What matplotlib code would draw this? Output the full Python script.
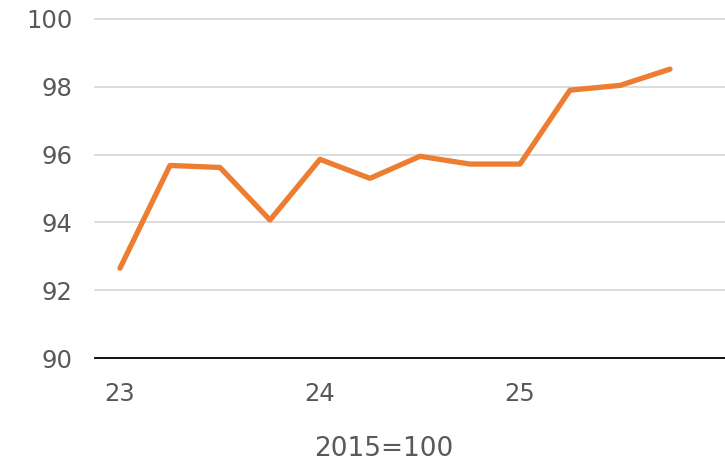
import numpy as np
import matplotlib.pyplot as plt

plt.rcParams['font.family'] = ['DejaVu Sans']

# kvartalsvis indeks, 2015=100
quarters = ['23K1', '23K2', '23K3', '23K4', '24K1', '24K2', '24K3', '24K4',
            '25K1', '25K2', '25K3', '25K4']
values = [92.65, 95.68, 95.62, 94.07, 95.86, 95.3, 95.95, 95.72,
          95.72, 97.9, 98.04, 98.52]
tick_pos = [0, 4, 8]
tick_labels = ['23', '24', '25']
y_ticks = [90, 92, 94, 96, 98, 100]

grey = '#595959'

fig = plt.figure(figsize=(7.25, 4.62), dpi=100)
ax = fig.add_axes([0.131, 0.225, 0.869, 0.734])

x = np.arange(len(quarters))
ax.plot(x, values, color='#ED7D31', lw=3.8, solid_capstyle='round',
        solid_joinstyle='round', zorder=3)

ax.set_xlim(-0.5, 12.1)
ax.set_ylim(90, 100)
ax.set_yticks(y_ticks)
ax.set_xticks(tick_pos)
ax.set_xticklabels(tick_labels)
ax.yaxis.grid(True, color='#d9d9d9', lw=1.3, clip_on=False)
ax.set_axisbelow(True)

for s in ['top', 'right', 'left']:
    ax.spines[s].set_visible(False)
ax.spines['bottom'].set_color('black')
ax.spines['bottom'].set_linewidth(1.3)
ax.spines['bottom'].set_zorder(4)

ax.tick_params(axis='both', length=0, labelsize=17.5, labelcolor=grey)
ax.tick_params(axis='y', pad=16)
ax.tick_params(axis='x', pad=17)

fig.text(0.53, 0.028, '2015=100', ha='center', va='center',
         fontsize=19, color=grey)

fig.savefig('out.png', dpi=100)
